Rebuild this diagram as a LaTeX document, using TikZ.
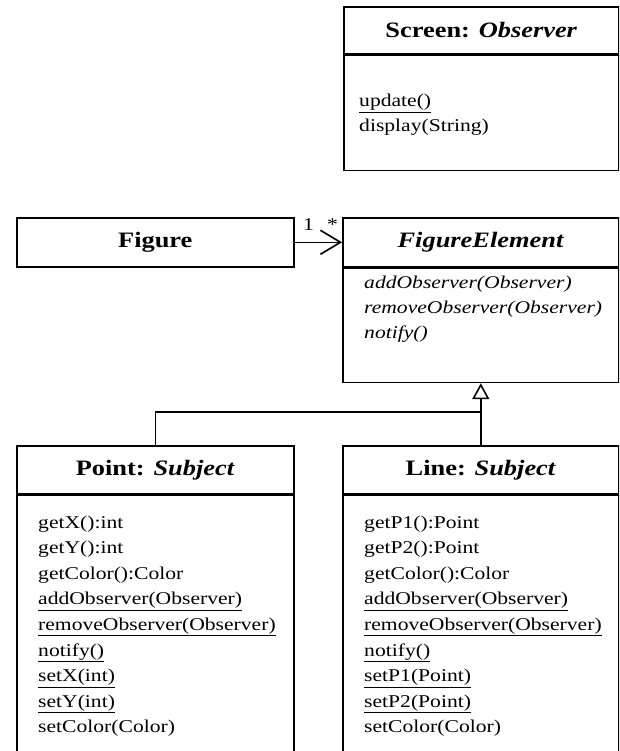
\documentclass[tikz,border=0pt]{standalone}
\usepackage{fontspec}
\setmainfont{Liberation Serif}[FakeStretch=1.2]
\usetikzlibrary{arrows.meta}
\begin{document}
\begin{tikzpicture}[x=1pt,y=-1pt,
  box/.style={draw, line width=1.6pt, inner sep=0pt, anchor=north west},
  ttl/.style={font=\fontsize{22}{26}\selectfont\bfseries},
  txt/.style={font=\fontsize{18}{25.6}\selectfont, inner sep=0pt, anchor=base west},
  conn/.style={line width=1.6pt}]
\clip (0,0) rectangle (619,751);
% Screen
\node[box, ttl, minimum width=275pt, minimum height=47pt] (scrH) at (343,6) {Screen: \textit{Observer}};
\node[box, minimum width=275pt, minimum height=115pt] (scrB) at (scrH.south west) {};
\node[txt, font=\fontsize{18}{24.8}\selectfont] (scrT) at (359,107) {\begin{tabular}[t]{@{}l@{}}\underline{update()}\\display(String)\end{tabular}};
% Figure
\node[box, ttl, minimum width=277pt, minimum height=49pt] (figH) at (16,217) {Figure};
% FigureElement
\node[box, ttl, minimum width=276pt, minimum height=49pt] (feH) at (342,217) {\textit{FigureElement}};
\node[box, minimum width=276pt, minimum height=114pt] (feB) at (feH.south west) {};
\node[txt, font=\fontsize{18}{25}\selectfont\itshape] (feT) at (364,288) {\begin{tabular}[t]{@{}l@{}}addObserver(Observer)\\removeObserver(Observer)\\notify()\end{tabular}};
% Point
\node[box, ttl, minimum width=277pt, minimum height=48pt] (ptH) at (16,445) {Point: \textit{Subject}};
\node[box, minimum width=277pt, minimum height=300pt] (ptB) at (ptH.south west) {};
\node[txt] (ptT) at (38,528) {\begin{tabular}[t]{@{}l@{}}getX():int\\getY():int\\getColor():Color\\\underline{addObserver(Observer)}\\\underline{removeObserver(Observer)}\\\underline{notify()}\\\underline{setX(int)}\\\underline{setY(int)}\\setColor(Color)\end{tabular}};
% Line
\node[box, ttl, minimum width=276pt, minimum height=48pt] (lnH) at (342,445) {Line: \textit{Subject}};
\node[box, minimum width=276pt, minimum height=300pt] (lnB) at (lnH.south west) {};
\node[txt] (lnT) at (364,528) {\begin{tabular}[t]{@{}l@{}}getP1():Point\\getP2():Point\\getColor():Color\\\underline{addObserver(Observer)}\\\underline{removeObserver(Observer)}\\\underline{notify()}\\\underline{setP1(Point)}\\\underline{setP2(Point)}\\setColor(Color)\end{tabular}};
% association
\draw[conn, -{Straight Barb[length=20pt, width=24pt]}] (figH.east) -- (feH.west);
\node[txt] (one) at (303,230) {1};
\node[txt] (many) at (327,230) {*};
% generalization
\coordinate (junc) at (lnH.north |- 0,412);
\draw[conn] (ptH.north) |- (junc);
\draw[conn, -{Triangle[open, length=16pt, width=17pt]}] (lnH.north) -- (feB.south);
\end{tikzpicture}
\end{document}
